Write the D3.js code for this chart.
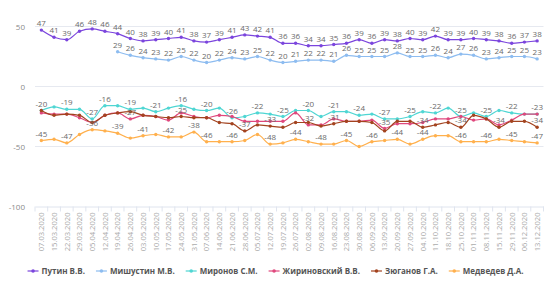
<!DOCTYPE html>
<html>
<head>
<meta charset="utf-8">
<script src="https://cdn.jsdelivr.net/npm/d3@7"></script>
<style>
  body { margin: 0; background: #fff; }
  svg text { font-family: "Open Sans", "Noto Sans", sans-serif; }
</style>
</head>
<body>
<svg id="chart"></svg>
<script>
const dates = ['07.03.2020','15.03.2020','22.03.2020','29.03.2020','05.04.2020','12.04.2020','19.04.2020','26.04.2020',
  '03.05.2020','10.05.2020','17.05.2020','24.05.2020','31.05.2020','07.06.2020','14.06.2020','21.06.2020','28.06.2020',
  '05.07.2020','12.07.2020','19.07.2020','26.07.2020','02.08.2020','09.08.2020','16.08.2020','23.08.2020','30.08.2020',
  '06.09.2020','13.09.2020','20.09.2020','27.09.2020','04.10.2020','11.10.2020','18.10.2020','25.10.2020','01.11.2020',
  '08.11.2020','15.11.2020','29.11.2020','06.12.2020','13.12.2020'];

const putin = [47,41,39,46,48,46,44,40,38,39,40,41,38,37,39,41,43,42,41,36,36,34,34,35,36,39,36,39,38,40,39,42,39,39,40,39,38,36,37,38];
const mishustin = [null,null,null,null,null,null,29,26,24,23,22,25,22,20,22,24,23,25,22,20,21,22,22,21,26,25,25,25,28,25,25,26,24,27,26,23,24,25,25,23];
const mironov = [-20,-17,-19,-19,-27,-16,-16,-19,-18,-21,-18,-16,-19,-20,-18,-26,-25,-22,-23,-25,-20,-20,-25,-21,-21,-24,-23,-27,-27,-25,-21,-22,-18,-25,-22,-25,-20,-22,-23,-23];
const zhirinovsky = [-22,-23,-23,-26,-30,-24,-22,-27,-24,-25,-28,-22,-25,-26,-24,-25,-29,-29,-29,-29,-22,-32,-32,-27,-29,-29,-28,-35,-31,-31,-30,-27,-27,-25,-28,-27,-32,-28,-23,-23];
const zyuganov = [-20,-24,-23,-24,-30,-24,-22,-21,-24,-25,-26,-25,-26,-26,-30,-31,-37,-32,-33,-34,-30,-30,-33,-31,-29,-29,-30,-37,-29,-29,-34,-32,-30,-34,-24,-27,-34,-29,-29,-34];
const medvedev = [-45,-44,-47,-40,-36,-37,-39,-43,-41,-40,-42,-42,-38,-46,-46,-46,-45,-40,-48,-47,-44,-46,-48,-48,-45,-50,-46,-45,-44,-48,-44,-41,-41,-46,-46,-46,-44,-45,-46,-47];

const seriesNames = ['Путин В.В.', 'Мишустин М.В.', 'Миронов С.М.', 'Жириновский В.В.', 'Зюганов Г.А.', 'Медведев Д.А.'];
const seriesColors = ['#7b45dd', '#8dbcf0', '#4fd6d3', '#e0487d', '#a3431f', '#ffb04d'];
const yTicks = [50, 0, -50, -100];

class LineChartRating {
  constructor(_config, _series) {
    this.config = {
      parentElement: _config.parentElement,
      containerWidth: _config.containerWidth || 560,
      containerHeight: _config.containerHeight || 287,
      margin: {top: 26.5, right: 16.5, bottom: 80.5, left: 35}
    };
    this.series = _series;
    this.initVis();
  }

  initVis() {
    let vis = this;
    vis.width = vis.config.containerWidth - vis.config.margin.left - vis.config.margin.right;
    vis.height = vis.config.containerHeight - vis.config.margin.top - vis.config.margin.bottom;

    vis.xScale = d3.scaleBand()
      .domain(dates)
      .range([0, vis.width]);

    vis.yScale = d3.scaleLinear()
      .domain([-100, 50])
      .range([vis.height, 0]);

    vis.svg = d3.select(vis.config.parentElement)
      .attr('width', vis.config.containerWidth)
      .attr('height', vis.config.containerHeight);

    vis.chart = vis.svg.append('g')
      .attr('transform', `translate(${vis.config.margin.left},${vis.config.margin.top})`);

    vis.renderVis();
  }

  renderVis() {
    let vis = this;
    const xc = d => vis.xScale(d) + vis.xScale.bandwidth() / 2;

    // grid lines
    vis.chart.append('g').selectAll('line')
      .data(yTicks.filter(t => t !== -100))
      .join('line')
        .attr('x1', 0).attr('x2', vis.width)
        .attr('y1', d => vis.yScale(d)).attr('y2', d => vis.yScale(d))
        .attr('stroke', '#e6e9f0').attr('stroke-width', 1);

    // y labels
    vis.chart.append('g').selectAll('text')
      .data(yTicks)
      .join('text')
        .attr('x', -10)
        .attr('y', d => vis.yScale(d) + 3)
        .attr('text-anchor', 'end')
        .attr('font-size', 8)
        .attr('fill', '#8a8a8a')
        .text(d => d);

    // x axis
    const xAxis = d3.axisBottom(vis.xScale).tickSize(0).tickFormat('');
    const xAxisG = vis.chart.append('g')
      .attr('transform', `translate(0,${vis.height})`)
      .call(xAxis);
    xAxisG.select('.domain').attr('stroke', '#dfe4ee');
    xAxisG.selectAll('.tick').remove();

    const bounds = dates.map(d => vis.xScale(d)).concat([vis.width]);
    xAxisG.selectAll('line.bound')
      .data(bounds)
      .join('line')
        .attr('class', 'bound')
        .attr('x1', d => d).attr('x2', d => d)
        .attr('y1', 0).attr('y2', 5)
        .attr('stroke', '#dfe4ee');

    xAxisG.selectAll('text.date')
      .data(dates)
      .join('text')
        .attr('class', 'date')
        .attr('transform', d => `translate(${xc(d) + 2.8},6) rotate(-90)`)
        .attr('text-anchor', 'end')
        .attr('font-size', 7.6)
        .attr('fill', '#ababab')
        .text(d => d);

    const line = d3.line()
      .defined(d => d != null)
      .x((d, i) => xc(dates[i]))
      .y(d => vis.yScale(d))
      .curve(d3.curveMonotoneX);

    const placed = [];
    const labels = [];
    vis.series.forEach((s, si) => {
      vis.chart.append('path')
        .datum(s)
        .attr('fill', 'none')
        .attr('stroke', seriesColors[si])
        .attr('stroke-width', 1.2)
        .attr('d', line);

      vis.chart.append('g').selectAll('circle')
        .data(s.map((v, i) => ({v, i})).filter(d => d.v != null))
        .join('circle')
          .attr('cx', d => xc(dates[d.i]))
          .attr('cy', d => vis.yScale(d.v))
          .attr('r', 1.7)
          .attr('fill', seriesColors[si]);

      // labels with overlap hiding, in series order
      s.forEach((v, i) => {
        if (v == null) return;
        const x = xc(dates[i]);
        const y = vis.yScale(v) - 4;
        const w = String(v).length * 4.3 + 3;
        const box = {x0: x - w / 2, x1: x + w / 2, y0: y - 8, y1: y + 1};
        const hit = placed.some(b => box.x0 < b.x1 && box.x1 > b.x0 && box.y0 < b.y1 && box.y1 > b.y0);
        if (!hit) {
          placed.push(box);
          labels.push({x, y, v});
        }
      });
    });

    vis.chart.append('g').selectAll('text')
      .data(labels)
      .join('text')
        .attr('x', d => d.x)
        .attr('y', d => d.y)
        .attr('text-anchor', 'middle')
        .attr('font-size', 8)
        .attr('fill', '#6a6a6a')
        .text(d => d.v);

    // legend
    const legend = vis.svg.append('g').attr('transform', 'translate(0,271)');
    const items = legend.selectAll('g')
      .data(seriesNames)
      .join('g');
    items.append('line')
      .attr('x1', 0).attr('x2', 11).attr('y1', 0).attr('y2', 0)
      .attr('stroke', (d, i) => seriesColors[i]).attr('stroke-width', 1.2);
    items.append('circle')
      .attr('cx', 5.5).attr('cy', 0).attr('r', 1.8)
      .attr('fill', (d, i) => seriesColors[i]);
    items.append('text')
      .attr('x', 14).attr('y', 3)
      .attr('font-size', 8)
      .attr('font-weight', 'bold')
      .attr('fill', '#555')
      .text(d => d);

    const widths = [];
    items.each(function() { widths.push(14 + d3.select(this).select('text').node().getComputedTextLength()); });
    const gap = 11;
    const total = d3.sum(widths) + gap * (widths.length - 1);
    let cursor = 275.5 - total / 2;
    items.attr('transform', (d, i) => {
      const t = `translate(${cursor},0)`;
      cursor += widths[i] + gap;
      return t;
    });
  }
}

new LineChartRating({parentElement: '#chart'}, [putin, mishustin, mironov, zhirinovsky, zyuganov, medvedev]);
</script>
</body>
</html>
